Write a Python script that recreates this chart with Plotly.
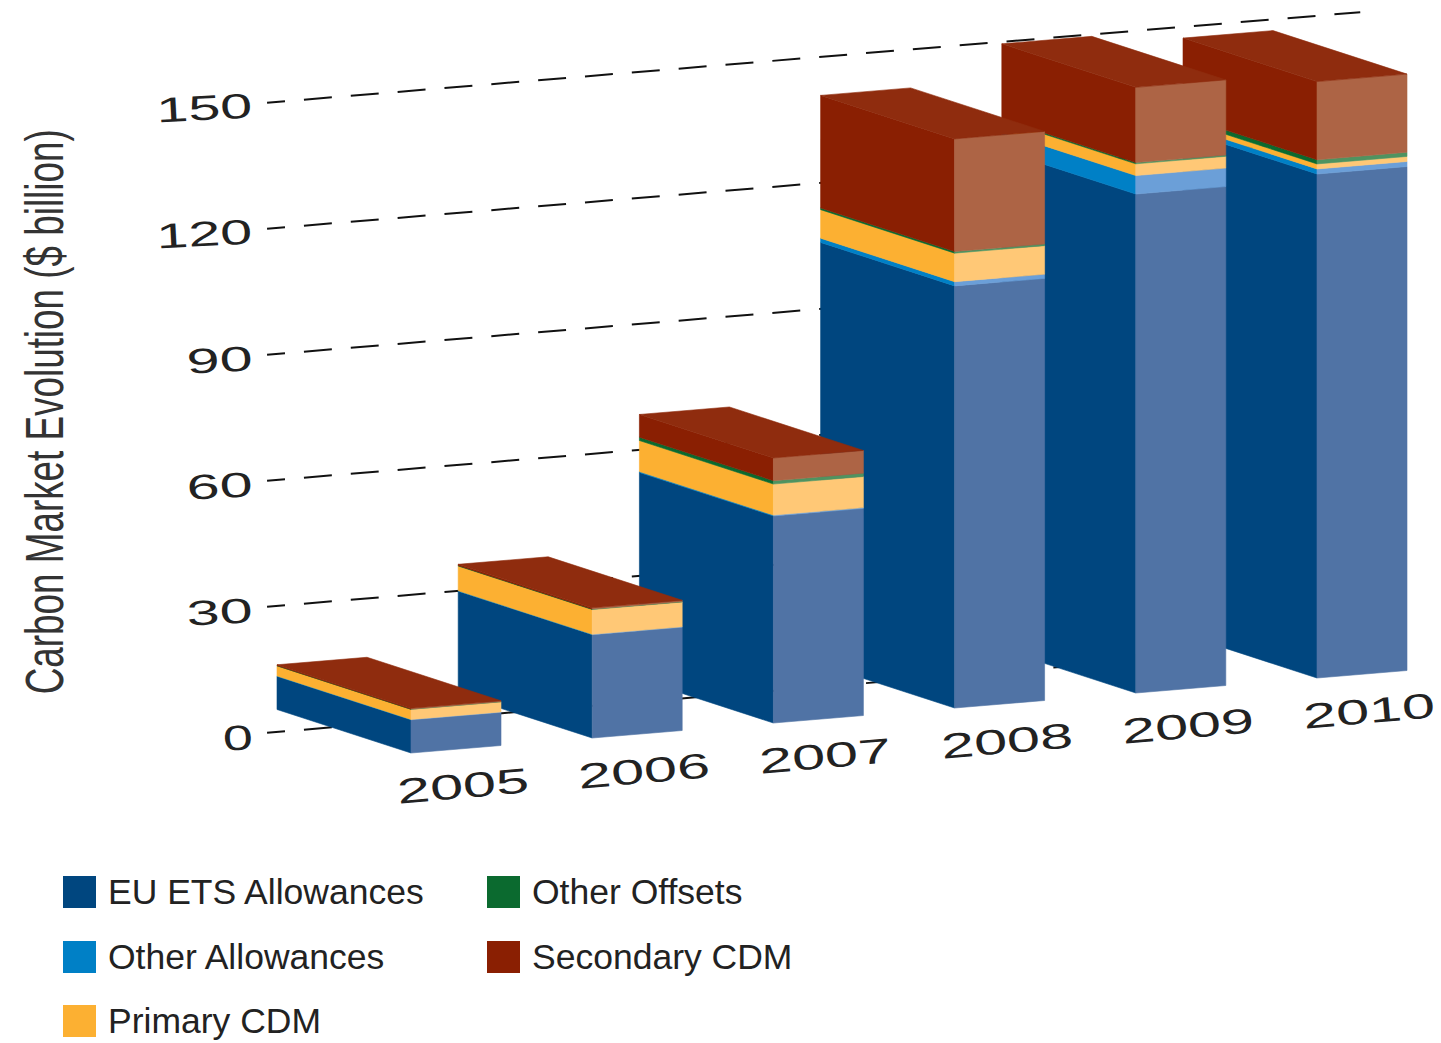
import plotly.graph_objects as go

# ---- data ($ billion) ----
years = ["2005", "2006", "2007", "2008", "2009", "2010"]
eu_ets = [7.9, 24.6, 49.3, 100.5, 118.8, 120.0]
other_allowances = [0.1, 0.1, 0.2, 1.0, 4.4, 1.2]
primary_cdm = [2.4, 5.9, 7.4, 6.8, 2.8, 1.2]
other_offsets = [0.05, 0.1, 0.8, 0.4, 0.3, 1.0]
secondary_cdm = [0.2, 0.3, 5.4, 26.8, 17.9, 18.6]
value_ticks = [0, 30, 60, 90, 120, 150]

series_names = ["EU ETS Allowances", "Other Allowances", "Primary CDM", "Other Offsets", "Secondary CDM"]
series_values = [eu_ets, other_allowances, primary_cdm, other_offsets, secondary_cdm]
side_colors = ["#00467F", "#0080C6", "#FCB032", "#0B6A2F", "#8A1F02"]
front_colors = ["#5073A5", "#6B9FD8", "#FFC876", "#4F9360", "#AD6445"]
top_color = "#8F2C0E"

# ---- canvas and oblique projection ----
W, H = 1441, 1043
PX_PER_CAT = 181.2      # pixels per category on the x axis
PX_PER_VAL = 4.2        # pixels per $ billion on the y axis
X0, Y0 = 411, 753       # pixel of the first bar's front corner
FRONT_DX, FRONT_DY = 90 / PX_PER_CAT, 7.5 / PX_PER_VAL
DEPTH_DX, DEPTH_DY = -134 / PX_PER_CAT, 43.5 / PX_PER_VAL
CAT_RISE = 15 / PX_PER_VAL
GRID_DEPTH = 0.59


def project(cat, front, depth, value):
    return (cat + front * FRONT_DX + depth * DEPTH_DX,
            value + cat * CAT_RISE + front * FRONT_DY + depth * DEPTH_DY)


def polygon(corners, color):
    pts = [project(*c) for c in corners]
    return go.Scatter(x=[p[0] for p in pts] + [pts[0][0]], y=[p[1] for p in pts] + [pts[0][1]],
                      mode="lines", fill="toself", fillcolor=color,
                      line=dict(color=color, width=0.6), hoverinfo="skip", showlegend=False)


fig = go.Figure()

# dashed value lines on the back wall
dash = "18px 19px " + " ".join(["28px 19px"] * 30)
for v in value_ticks:
    a, b = project(-0.358, 0, GRID_DEPTH, v), project(5.675, 0, GRID_DEPTH, v)
    fig.add_trace(go.Scatter(x=[a[0], b[0]], y=[a[1], b[1]], mode="lines",
                             line=dict(color="#111111", width=2, dash=dash),
                             hoverinfo="skip", showlegend=False))

# bars, back to front
for i in reversed(range(len(years))):
    lo = 0.0
    for s, vals in enumerate(series_values):
        hi = lo + vals[i]
        fig.add_trace(polygon([(i, 0, 0, lo), (i, 0, 0, hi), (i, 0, 1, hi), (i, 0, 1, lo)], side_colors[s]))
        fig.add_trace(polygon([(i, 0, 0, lo), (i, 0, 0, hi), (i, 1, 0, hi), (i, 1, 0, lo)], front_colors[s]))
        lo = hi
    fig.add_trace(polygon([(i, 0, 0, lo), (i, 1, 0, lo), (i, 1, 1, lo), (i, 0, 1, lo)], top_color))

annotations = []
shapes = []
tick_font = dict(family="Liberation Sans", size=35, color="#222222")


def xdata(px):
    return (px - X0) / PX_PER_CAT


def ydata(py):
    return (Y0 - py) / PX_PER_VAL


# value tick labels
for v in value_ticks:
    label = str(v)
    width = {1: 30, 2: 66, 3: 96}[len(label)]
    annotations.append(dict(x=xdata(252 - width / 2), y=v + 16 / PX_PER_VAL, xref="x", yref="y", text=label,
                            showarrow=False, font=tick_font, textangle=-3))

# category labels
for i, year in enumerate(years):
    annotations.append(dict(x=i + 52 / PX_PER_CAT, y=-32 / PX_PER_VAL + i * CAT_RISE, xref="x", yref="y",
                            text=year, showarrow=False, font=tick_font, textangle=-5))

# axis title
annotations.append(dict(x=xdata(44), y=ydata(412), xref="x", yref="y",
                        text="Carbon Market Evolution ($ billion)", showarrow=False, textangle=-90,
                        font=dict(family="Liberation Sans Narrow, Liberation Sans", size=54, color="#333333")))

# legend
legend_pos = [(63, 892), (63, 957), (63, 1021), (487, 892), (487, 957)]
for name, color, (lx, ly) in zip(series_names, side_colors, legend_pos):
    shapes.append(dict(type="rect", xref="x", yref="y", x0=xdata(lx), x1=xdata(lx + 33),
                       y0=ydata(ly - 16), y1=ydata(ly + 16), fillcolor=color, line=dict(width=0)))
    annotations.append(dict(x=xdata(lx + 43), y=ydata(ly), xref="x", yref="y", text=name, showarrow=False,
                            xanchor="left", yanchor="middle",
                            font=dict(family="Liberation Sans", size=35.5, color="#222222")))

fig.update_layout(
    width=W, height=H, margin=dict(l=0, r=0, t=0, b=0),
    paper_bgcolor="white", plot_bgcolor="white", showlegend=False,
    xaxis=dict(range=[xdata(0), xdata(W)], visible=False, fixedrange=True),
    yaxis=dict(range=[ydata(H), ydata(0)], visible=False, fixedrange=True),
    annotations=annotations, shapes=shapes,
)

STRETCH_JS = """
document.body.style.margin = '0';
var lengths = {1: 30, 2: 66, 3: 96, 4: 132};
document.querySelectorAll('.annotation-text').forEach(function (t) {
  var s = t.textContent;
  if (/^[0-9]+$/.test(s)) {
    t.setAttribute('textLength', lengths[s.length]);
    t.setAttribute('lengthAdjust', 'spacingAndGlyphs');
  } else if (s.indexOf('Carbon') === 0) {
    t.setAttribute('textLength', 565);
    t.setAttribute('lengthAdjust', 'spacingAndGlyphs');
  }
});
"""

fig.write_html("out.html", config={"displayModeBar": False}, post_script=STRETCH_JS)
